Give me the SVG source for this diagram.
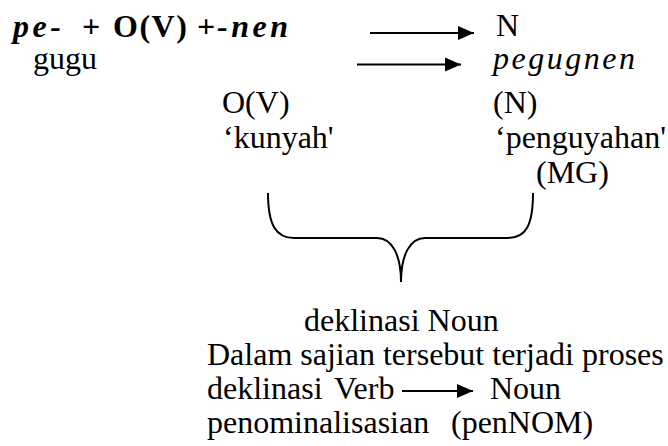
<svg xmlns="http://www.w3.org/2000/svg" width="668" height="446" viewBox="0 0 668 446">
<defs>
<style>
text{font-family:"Liberation Serif","Times New Roman",serif;font-size:32px;fill:#000}
.bi{font-weight:bold;font-style:italic;letter-spacing:3.5px}
.b{font-weight:bold}
.bs{font-weight:bold;letter-spacing:1.5px}
.i{font-style:italic;letter-spacing:2.5px}
.ln{stroke:#000;stroke-width:2;fill:none}
</style>
<marker id="ah" markerUnits="userSpaceOnUse" markerWidth="18" markerHeight="16" refX="16" refY="8" orient="auto">
<path d="M0,1 L16,8 L0,15 Z" fill="#000"/>
</marker>
</defs>
<g id="formula">
<text x="13" y="37" class="bi">pe-</text>
<text x="82" y="37" class="b">+</text>
<text x="113" y="37" class="bs">O(V)</text>
<text x="197" y="37" class="b">+</text>
<text x="217" y="37" class="bi">-nen</text>
</g>
<g id="n-top"><text x="496" y="36">N</text></g>
<g id="gugu"><text x="33" y="69">gugu</text></g>
<g id="pegugnen"><text x="493" y="69" class="i">pegugnen</text></g>
<g id="ov"><text x="222" y="113">O(V)</text><text x="223" y="148">‘kunyah'</text></g>
<g id="nn"><text x="493" y="113">(N)</text><text x="495" y="148">‘penguyahan'</text><text x="536" y="183">(MG)</text></g>
<g id="connectors">
<line class="ln" x1="370" y1="33" x2="474" y2="33" marker-end="url(#ah)"/>
<line class="ln" x1="357" y1="64.5" x2="461" y2="64.5" marker-end="url(#ah)"/>
<path class="ln" d="M268,193 C268,225 276,238 294,238 L377,238 C392,238 401,255 401,282 C401,255 410,238 425,238 L508,238 C526,238 533,225 533,193"/>
<line class="ln" x1="402" y1="391" x2="473" y2="391" marker-end="url(#ah)"/>
</g>
<g id="bottom">
<text x="304" y="331">deklinasi Noun</text>
<text x="207" y="365">Dalam sajian tersebut terjadi proses</text>
<text x="207" y="399">deklinasi</text>
<text x="334" y="399">Verb</text>
<text x="490" y="399">Noun</text>
<text x="207" y="433">penominalisasian</text>
<text x="451" y="433">(penNOM)</text>
</g>
</svg>
